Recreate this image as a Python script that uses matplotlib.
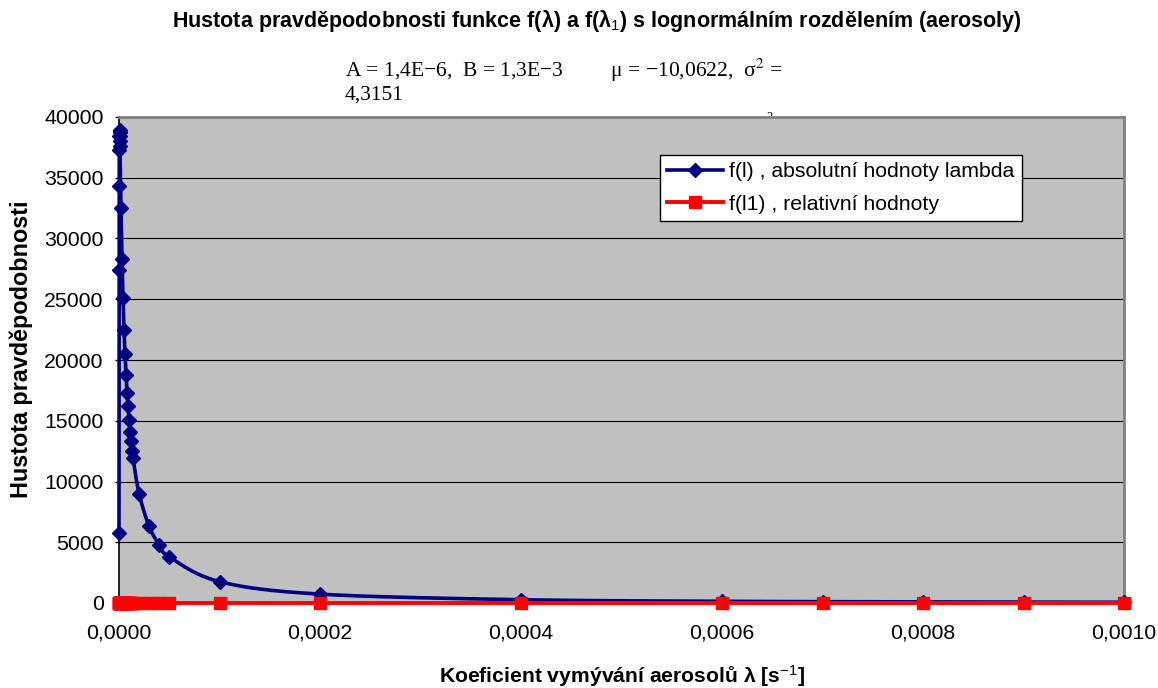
import numpy as np
import matplotlib
matplotlib.use("Agg")
import matplotlib.pyplot as plt
from matplotlib.ticker import FuncFormatter
from matplotlib.lines import Line2D

# ---------------- data ----------------
lam = [1e-8, 1e-7, 2e-7, 3e-7, 4e-7, 5e-7, 6e-7, 7e-7, 8e-7, 9e-7,
       1e-6, 2e-6, 3e-6, 4e-6, 5e-6, 6e-6, 7e-6, 8e-6, 9e-6, 1e-5,
       1.1e-5, 1.2e-5, 1.3e-5, 1.4e-5, 2e-5, 3e-5, 4e-5, 5e-5,
       1e-4, 2e-4, 4e-4, 6e-4, 7e-4, 8e-4, 9e-4, 1e-3]
f_abs = [5800, 27400, 34300, 37300, 38400, 38800, 38900, 38800, 38400, 38000,
         37600, 32500, 28300, 25100, 22500, 20500, 18800, 17300, 16200, 15100,
         14100, 13300, 12500, 11900, 9000, 6300, 4800, 3800,
         1760, 730, 270, 140, 110, 90, 70, 60]
f_rel = [0, 0, 0, 0, 0, 0, 0, 0, 0, 0,
         0, 0, 0, 0, 0, 0, 0, 0, 0, 0,
         0, 0, 0, 0, 0, 0, 0, 0,
         0, 0, 0, 0, 0, 0, 0, 0]
x_ticks = [0.0, 0.0002, 0.0004, 0.0006, 0.0008, 0.0010]
y_ticks = [0, 5000, 10000, 15000, 20000, 25000, 30000, 35000, 40000]

title = "Hustota pravděpodobnosti funkce f(λ) a f(λ$_1$) s lognormálním rozdělením (aerosoly)"
xlabel = "Koeficient vymývání aerosolů λ [s$^{-1}$]"
ylabel = "Hustota pravděpodobnosti"
label_abs = "f(l) , absolutní hodnoty lambda"
label_rel = "f(l1) , relativní hodnoty"
note1 = "A = 1,4E−6,  B = 1,3E−3         μ = −10,0622,  σ$^2$ ="
note2 = "4,3151"

W, H = 1158, 688
plt.rcParams['font.family'] = ['Liberation Sans', 'DejaVu Sans']
plt.rcParams['mathtext.fontset'] = 'custom'
plt.rcParams['mathtext.rm'] = 'Liberation Sans'
plt.rcParams['mathtext.it'] = 'Liberation Sans'
plt.rcParams['mathtext.bf'] = 'Liberation Sans:bold'

FS = 15.3
fig = plt.figure(figsize=(W / 100, H / 100), dpi=100)
L, R, T, B = 119, 1124, 117, 603
ax = fig.add_axes([L / W, 1 - B / H, (R - L) / W, (B - T) / H])
ax.set_facecolor('#C0C0C0')
XMIN, XMAX, YMIN, YMAX = 0.0, 0.001, 0, 40000
ax.set_xlim(XMIN, XMAX)
ax.set_ylim(YMIN, YMAX)


def smooth(xs, ys, n=24):
    """Excel-like Bezier smoothing done in pixel space."""
    xs = np.asarray(xs, float); ys = np.asarray(ys, float)
    px = (xs - XMIN) / (XMAX - XMIN) * (R - L)
    py = (ys - YMIN) / (YMAX - YMIN) * (B - T)
    P = np.column_stack([px, py])
    out = [P[0]]
    t = np.linspace(0, 1, n)[1:, None]
    for i in range(len(P) - 1):
        p0 = P[i - 1] if i > 0 else P[i]
        p1 = P[i]; p2 = P[i + 1]
        p3 = P[i + 2] if i + 2 < len(P) else P[i + 1]
        c1 = p1 + (p2 - p0) / 6.0
        c2 = p2 - (p3 - p1) / 6.0
        seg = ((1 - t) ** 3) * p1 + 3 * ((1 - t) ** 2) * t * c1 + 3 * (1 - t) * t ** 2 * c2 + t ** 3 * p2
        out.extend(seg)
    out = np.array(out)
    return (out[:, 0] / (R - L) * (XMAX - XMIN) + XMIN,
            out[:, 1] / (B - T) * (YMAX - YMIN) + YMIN)


for yv in y_ticks[1:]:
    ax.axhline(yv, color='black', lw=0.8, zorder=1)

bx, by = smooth(lam, f_abs)
ax.plot(bx, by, color='#000080', lw=2.6, zorder=3, clip_on=False, solid_capstyle='round')
ax.plot(lam, f_abs, ls='none', marker='D', ms=7.5, color='#000080', zorder=4, clip_on=False)
rx, ry = smooth(lam, f_rel)
ax.plot(rx, ry, color='#FF0000', lw=2.8, zorder=5, clip_on=False)
ax.plot(lam, f_rel, ls='none', marker='s', ms=9, color='#FF0000', zorder=6, clip_on=False)

h1 = Line2D([], [], color='#000080', lw=2.6, marker='D', ms=7.5)
h2 = Line2D([], [], color='#FF0000', lw=2.8, marker='s', ms=9)
leg = ax.legend([h1, h2], [label_abs, label_rel], loc='upper left',
                bbox_to_anchor=((660 - L) / (R - L), 1 - (155 - T) / (B - T)),
                fontsize=FS, frameon=True, fancybox=False, framealpha=1,
                edgecolor='black', handlelength=2.6, handletextpad=0.3,
                borderpad=0.35, labelspacing=0.62, borderaxespad=0)
leg.get_frame().set_linewidth(1.0)

ax.set_xticks(x_ticks)
ax.xaxis.set_major_formatter(FuncFormatter(lambda v, p: f"{v:.4f}".replace('.', ',')))
ax.set_yticks(y_ticks)
ax.yaxis.set_major_formatter(FuncFormatter(lambda v, p: f"{int(round(v))}"))
ax.tick_params(axis='both', labelsize=FS, direction='out', width=1, colors='black')
ax.tick_params(axis='x', length=4, pad=11)
ax.tick_params(axis='y', length=3, pad=8)

for s in ['top', 'right']:
    ax.spines[s].set_color('#808080')
    ax.spines[s].set_linewidth(2)
for s in ['left', 'bottom']:
    ax.spines[s].set_color('black')
    ax.spines[s].set_linewidth(1.2)

fig.text(597 / W, 1 - 21 / H, title, ha='center', va='center', fontsize=15.5, fontweight='bold')
fig.text(622 / W, 1 - 676 / H, xlabel, ha='center', va='center', fontsize=15.2, fontweight='bold')
fig.text(21 / W, 1 - 349 / H, ylabel, ha='center', va='center', rotation=90, fontsize=16.8, fontweight='bold')
fig.text(345 / W, 1 - 70 / H, note1, ha='left', va='center', fontsize=15.5,
         family=['Liberation Serif', 'DejaVu Serif'], math_fontfamily='stix')
fig.text(345 / W, 1 - 95 / H, note2, ha='left', va='center', fontsize=15.5,
         family=['Liberation Serif', 'DejaVu Serif'])
fig.text(770 / W, 1 - 117 / H, "2", ha='center', va='center', fontsize=9,
         family=['Liberation Serif'], zorder=-1)

fig.savefig('out.png', dpi=100)
